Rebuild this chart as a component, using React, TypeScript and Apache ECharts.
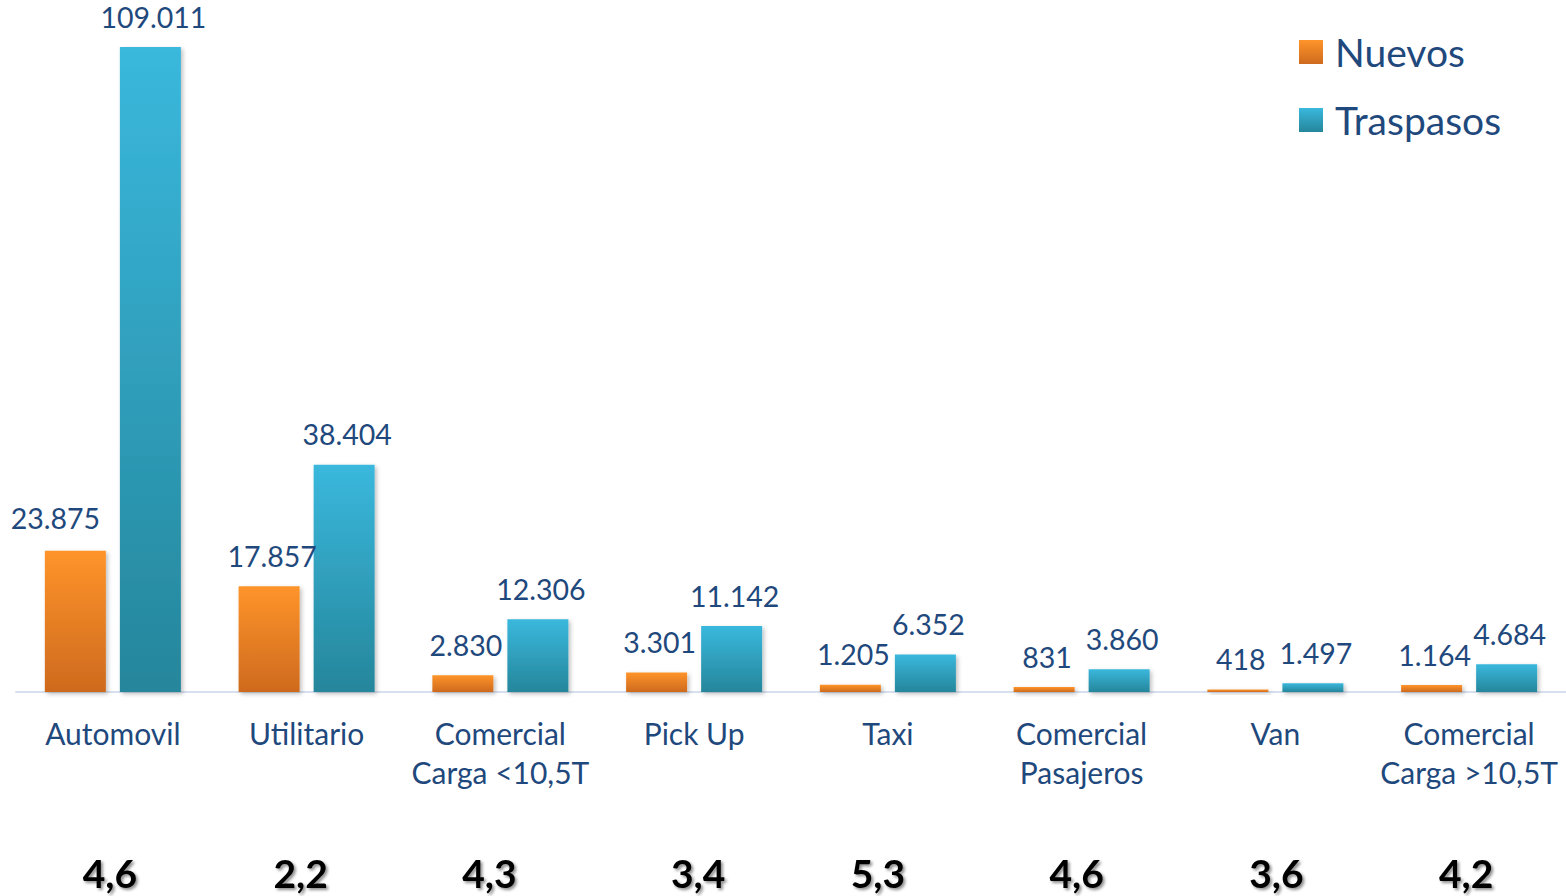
import React, { useEffect, useRef } from "react";
import * as echarts from "echarts";

const categories = [
  "Automovil",
  "Utilitario",
  "Comercial\nCarga <10,5T",
  "Pick Up",
  "Taxi",
  "Comercial\nPasajeros",
  "Van",
  "Comercial\nCarga >10,5T",
];
const nuevos = [23875, 17857, 2830, 3301, 1205, 831, 418, 1164];
const traspasos = [109011, 38404, 12306, 11142, 6352, 3860, 1497, 4684];
const ratios = ["4,6", "2,2", "4,3", "3,4", "5,3", "4,6", "3,6", "4,2"];

const FONT = "Lato, 'Noto Sans', sans-serif";
const BLUE = "#1F497D";

function fmt(v: number): string {
  return String(v).replace(/\B(?=(\d{3})+(?!\d))/g, ".");
}

export default function App() {
  const ref = useRef<HTMLDivElement>(null);
  useEffect(() => {
    if (!ref.current) return;
    const chart = echarts.init(ref.current, undefined, { renderer: "svg" });
    const orange = new echarts.graphic.LinearGradient(0, 0, 0, 1, [
      { offset: 0, color: "#FE942A" },
      { offset: 1, color: "#CE6A1E" },
    ]);
    const teal = new echarts.graphic.LinearGradient(0, 0, 0, 1, [
      { offset: 0, color: "#3AB8DD" },
      { offset: 1, color: "#25869B" },
    ]);
    const shadow = {
      shadowColor: "rgba(0,0,0,0.25)",
      shadowBlur: 4,
      shadowOffsetX: 2,
      shadowOffsetY: 2,
    };
    const labelBase = {
      show: true,
      position: "top" as const,
      distance: 16,
      fontFamily: FONT,
      fontSize: 28.5,
      color: BLUE,
      offset: [3, 0],
      formatter: (p: any) => fmt(p.value),
    };
    // horizontal nudges of the bottom ratio labels (px, negative = left)
    const nudge = [-3, -6, -11, 4, -10, -5, 1, -3];
    const rich: Record<string, any> = {};
    nudge.forEach((n, i) => {
      rich["r" + i] = {
        fontFamily: FONT,
        fontSize: 39,
        fontWeight: "bold",
        color: "#000000",
        padding: n < 0 ? [0, -2 * n, 0, 0] : [0, 0, 0, 2 * n],
        textShadowColor: "rgba(0,0,0,0.45)",
        textShadowBlur: 3,
        textShadowOffsetX: 2,
        textShadowOffsetY: 2,
      };
    });
    chart.setOption({
      animation: false,
      backgroundColor: "#ffffff",
      grid: { left: 16, width: 1551, top: 47, height: 645, containLabel: false },
      legend: {
        orient: "vertical",
        left: 1299,
        top: 32,
        padding: 0,
        icon: "rect",
        itemWidth: 24,
        itemHeight: 24,
        itemGap: 28,
        textStyle: {
          fontFamily: FONT,
          fontSize: 39,
          color: BLUE,
          lineHeight: 40,
          padding: [0, 0, 0, 7],
        },
        data: ["Nuevos", "Traspasos"],
      },
      xAxis: [
        {
          type: "category",
          data: categories,
          axisLine: { show: true, lineStyle: { color: "#D6E0EE", width: 2 } },
          axisTick: { show: false },
          axisLabel: {
            interval: 0,
            margin: 21,
            fontFamily: FONT,
            fontSize: 30,
            lineHeight: 39,
            color: BLUE,
          },
        },
        {
          type: "category",
          data: ratios,
          position: "bottom",
          axisLine: { show: false },
          axisTick: { show: false },
          axisLabel: {
            interval: 0,
            margin: 161,
            fontFamily: FONT,
            fontSize: 39,
            fontWeight: "bold",
            color: "#000000",
            formatter: (v: string, i: number) => "{r" + i + "|" + v + "}",
            rich,
          },
        },
      ],
      yAxis: {
        type: "value",
        min: 0,
        max: 109011,
        show: false,
        splitLine: { show: false },
      },
      series: [
        {
          name: "Nuevos",
          type: "bar",
          barWidth: 61,
          barGap: "23%",
          itemStyle: { color: orange, ...shadow },
          label: labelBase,
          data: nuevos.map((v, i) =>
            i === 0 ? { value: v, label: { offset: [-20, -2] } } : v
          ),
        },
        {
          name: "Traspasos",
          type: "bar",
          barWidth: 61,
          barGap: "23%",
          itemStyle: { color: teal, ...shadow },
          label: labelBase,
          data: traspasos,
        },
      ],
    });
    return () => chart.dispose();
  }, []);
  return (
    <div
      ref={ref}
      style={{ position: "fixed", left: 0, top: 0, width: 1566, height: 896 }}
    />
  );
}
